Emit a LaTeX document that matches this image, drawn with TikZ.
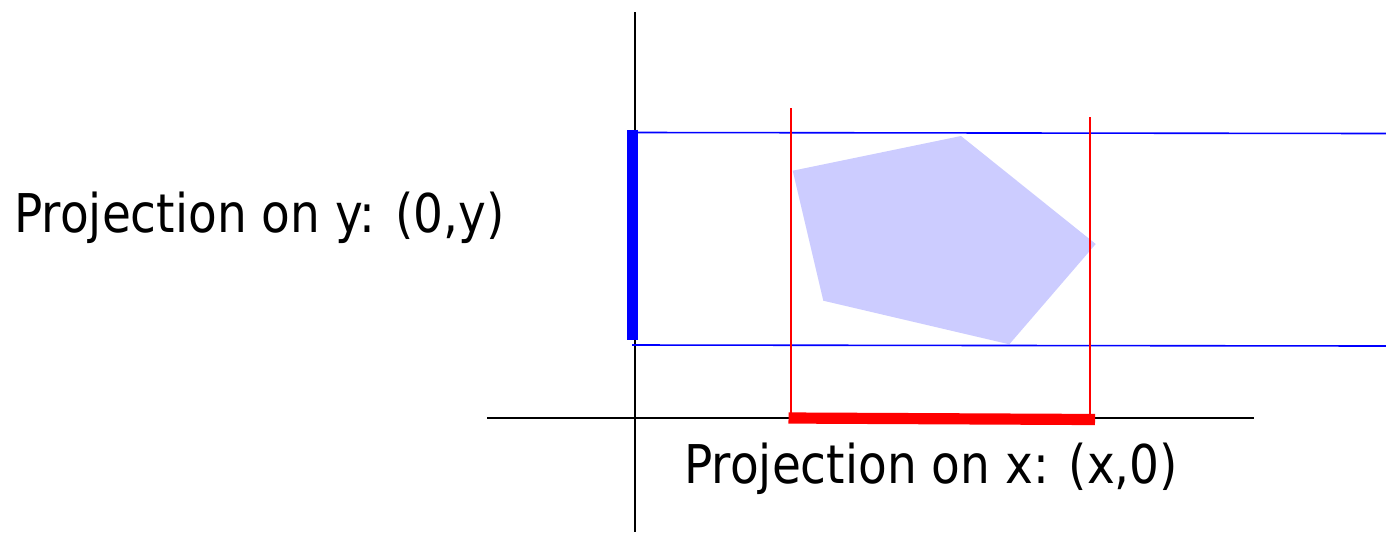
\documentclass[tikz,border=0pt]{standalone}
\usepackage{fontspec}
\setmainfont[FakeStretch=0.88]{DejaVu Sans}
\begin{document}
\begin{tikzpicture}[x=0.5pt,y=-0.5pt,
  axis/.style={line width=0.9pt,black},
  bluethin/.style={line width=0.8pt,blue},
  redthin/.style={line width=0.8pt,red},
  bluebar/.style={line width=5.6pt,blue},
  redbar/.style={line width=5.6pt,red},
  label/.style={inner sep=0pt,font=\fontsize{26.7}{30}\selectfont}]
\useasboundingbox (0,0) rectangle (1386,532);
% polygon
\fill[fill={rgb,255:red,204;green,204;blue,255}] (792.7,170.7) -- (961,136) -- (1095.7,244) -- (1009.3,344.3) -- (823.3,300.7) -- cycle;
% axes
\draw[axis] (635,12) -- (635,532);
\draw[axis] (487,418) -- (1254,418);
% blue projection lines
\draw[bluethin] (637,132.5) -- (1386,133.5);
\draw[bluethin] (632,345) -- (1386,346);
\draw[bluebar] (632.5,129.5) -- (632.5,340);
% red projection lines
\draw[redthin] (790.7,108) -- (790.7,418);
\draw[redthin] (1090,117) -- (1090,418);
\draw[redbar] (788.5,418) -- (1095,419.5);
% labels
\node[label,anchor=base west] (ly) at (14,232) {Projection on y: (0,y)};
\node[label,anchor=base west] (lx) at (684,483) {Projection on x: (x,0)};
\end{tikzpicture}
\end{document}
